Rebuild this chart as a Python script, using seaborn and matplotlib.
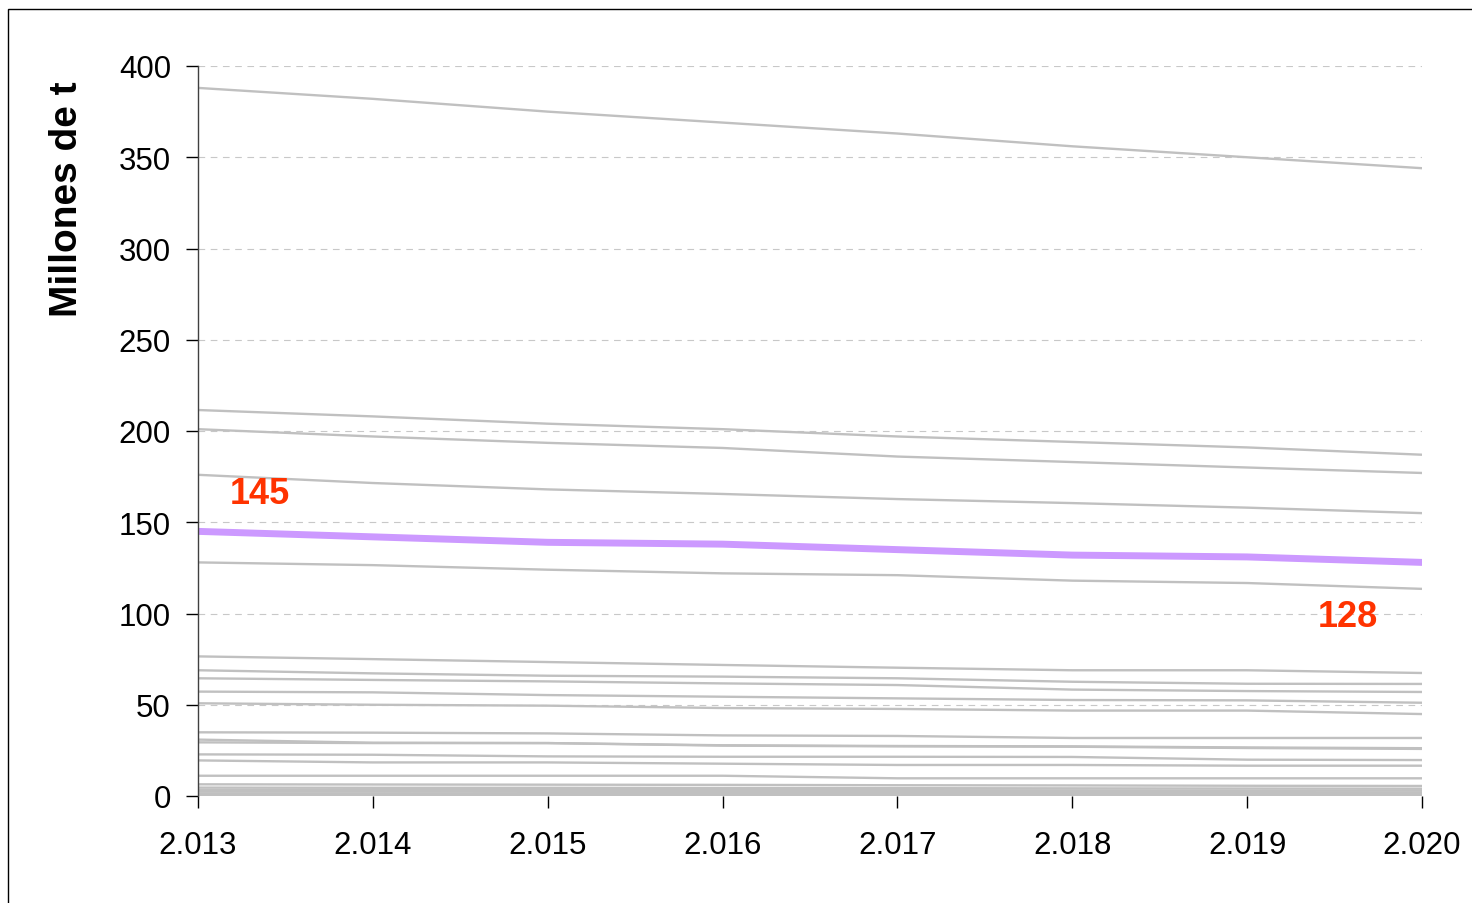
import matplotlib
matplotlib.use("Agg")
import matplotlib.pyplot as plt
from matplotlib.patches import Rectangle
import seaborn as sns
import pandas as pd

sns.set_theme(style="white")
plt.rcParams['font.family'] = ['Liberation Sans', 'DejaVu Sans']

years = [2013, 2014, 2015, 2016, 2017, 2018, 2019, 2020]
year_labels = ['2.013', '2.014', '2.015', '2.016', '2.017', '2.018', '2.019', '2.020']

# resto de países (gris)
s01 = [388, 382, 375, 369, 363, 356, 350, 344]
s02 = [211.5, 208, 204, 201, 197, 194, 191, 187]
s03 = [201, 197, 193.5, 190.7, 186, 183, 180, 177]
s04 = [176, 171.5, 168, 165.5, 162.7, 160.5, 158, 155]
s05 = [128, 126.5, 124, 122, 121, 118, 116.7, 113.5]
s06 = [76.5, 75, 73.4, 71.8, 70.3, 68.9, 68.9, 67.4]
s07 = [68.9, 67.2, 65.9, 65.4, 64.5, 62.6, 61.5, 61.4]
s08 = [64.5, 63.6, 62.8, 61.7, 60.8, 58.3, 57.5, 57]
s09 = [57.2, 56.8, 55.3, 54.4, 53.5, 52.6, 52.4, 51.1]
s10 = [50.8, 50.0, 49.5, 48.2, 47.7, 46.8, 46.8, 44.9]
s11 = [34.9, 34.7, 34.3, 33.2, 32.9, 31.8, 31.8, 31.8]
s12 = [30.9, 29.2, 29, 27.8, 27.4, 27.2, 26.6, 26.2]
s13 = [29.4, 29.0, 29, 27.6, 27.2, 27.0, 26.3, 25.8]
s14 = [22.8, 22.6, 21.7, 21.5, 21.5, 21.4, 19.9, 19.7]
s15 = [19.5, 18.4, 18.4, 17.7, 17, 17, 16.6, 16.6]
s16 = [11.1, 11.1, 11.1, 11.1, 9.7, 9.7, 9.7, 9.7]
s17 = [6.4, 6.3, 6.2, 6.1, 5.9, 5.8, 5.6, 5.5]
s18 = [4.6, 4.5, 4.5, 4.4, 4.3, 4.2, 4.1, 4.0]
s19 = [3.4, 3.4, 3.3, 3.3, 3.2, 3.1, 3.0, 3.0]
s20 = [2.4, 2.4, 2.3, 2.3, 2.2, 2.2, 2.1, 2.0]
s21 = [1.4, 1.4, 1.3, 1.3, 1.3, 1.2, 1.2, 1.1]
s22 = [0.5, 0.5, 0.5, 0.5, 0.4, 0.4, 0.4, 0.4]
others = [s01, s02, s03, s04, s05, s06, s07, s08, s09, s10, s11,
          s12, s13, s14, s15, s16, s17, s18, s19, s20, s21, s22]

# serie destacada (morado)
spain = [145, 142, 139, 138, 135, 132, 131, 128]

rows = []
for i, s in enumerate(others):
    for y, v in zip(years, s):
        rows.append({'serie': i, 'year': y, 'value': v})
df = pd.DataFrame(rows)
df_es = pd.DataFrame({'year': years, 'value': spain})

fig = plt.figure(figsize=(14.72, 9.04), dpi=100)
ax = fig.add_axes([198/1472, 107/904, 1224/1472, 730/904])

for y in range(50, 401, 50):
    ax.axhline(y, color='#c8c8c8', lw=0.8, ls=(0, (6, 5)), zorder=0)

sns.lineplot(data=df, x='year', y='value', units='serie', estimator=None,
             color='#c0c0c0', lw=1.7, ax=ax, legend=False)
sns.lineplot(data=df_es, x='year', y='value', color='#cc99ff', lw=5,
             ax=ax, legend=False, solid_capstyle='round')

ax.text(2013.355, 165.5, '145', color='#ff3300', fontsize=26, fontweight='bold',
        ha='center', va='center')
ax.text(2019.577, 98.6, '128', color='#ff3300', fontsize=26, fontweight='bold',
        ha='center', va='center')

ax.set_xlim(2013, 2020)
ax.set_ylim(0, 400)
ax.set_xticks(years)
ax.set_xticklabels(year_labels)
ax.set_yticks(range(0, 401, 50))
ax.tick_params(axis='both', labelsize=22.5, colors='black', length=8.5, width=1,
               direction='out', bottom=True, left=True)
ax.tick_params(axis='y', pad=11)
ax.tick_params(axis='x', pad=16)
ax.set_xlabel('')
ax.set_ylabel('Millones de t', fontsize=28, fontweight='bold', color='black')
ax.yaxis.set_label_coords(-0.092, 0.819)
for side in ['top', 'right', 'bottom']:
    ax.spines[side].set_visible(False)
ax.spines['left'].set_color('#404040')
ax.spines['left'].set_linewidth(1)

fig.patches.append(Rectangle((8/1472, -0.01), 1.2, (904-10)/904 + 0.01,
                             transform=fig.transFigure, fill=False,
                             edgecolor='black', lw=1))

fig.savefig('out.png', dpi=100)
